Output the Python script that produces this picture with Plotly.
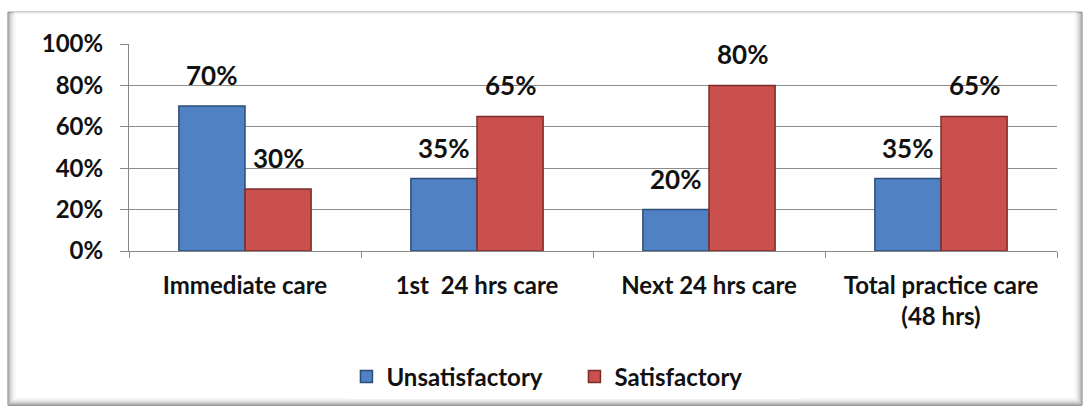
import plotly.graph_objects as go

categories = ["Immediate care", "1st  24 hrs care", "Next 24 hrs care", "Total practice care<br>(48 hrs)"]
unsatisfactory = [70, 35, 20, 35]
satisfactory = [30, 65, 80, 65]
tick_vals = [0, 20, 40, 60, 80, 100]
tick_text = ["0%", "20%", "40%", "60%", "80%", "100%"]

FONT = "Lato, 'Open Sans', sans-serif"
W, H = 1085, 409
ML, MR, MT, MB = 129, 28, 44, 157
PW, PH = W - ML - MR, H - MT - MB


def px(x):
    return (x - ML) / PW


def py(y):
    return (H - MB - y) / PH


fig = go.Figure()
fig.add_trace(go.Bar(
    name="Unsatisfactory", x=categories, y=unsatisfactory,
    marker=dict(color="#4F81C4", line=dict(color="#2C4D75", width=1.5)),
))
fig.add_trace(go.Bar(
    name="Satisfactory", x=categories, y=satisfactory,
    marker=dict(color="#C9504D", line=dict(color="#7A2E2C", width=1.5)),
))

annotations = []
for i, c in enumerate(categories):
    for val, off in ((unsatisfactory[i], -0.143), (satisfactory[i], 0.143)):
        annotations.append(dict(
            x=i + off, y=val, xref="x", yref="y", text=f"<b>{val}%</b>",
            showarrow=False, yanchor="middle", yshift=31,
            font=dict(family=FONT, size=26, color="#111"),
        ))

# frame with soft bevel
shapes = []
greys = ["#7a7a7a", "#9a9a9a", "#b4b4b4", "#c8c8c8", "#d8d8d8", "#e4e4e4", "#eeeeee", "#f5f5f5"]
for k, g in enumerate(greys):
    shapes.append(dict(
        type="rect", xref="paper", yref="paper", layer="below",
        x0=px(8 + k), x1=px(1082 - k), y0=py(407 - k), y1=py(12 + (1 if k > 0 else 0)),
        line=dict(color=g, width=1), fillcolor="rgba(0,0,0,0)",
    ))

fig.update_layout(
    width=W, height=H,
    margin=dict(l=ML, r=MR, t=MT, b=MB),
    paper_bgcolor="white", plot_bgcolor="white",
    barmode="group", bargap=0.43, bargroupgap=0,
    font=dict(family=FONT, color="#111"),
    xaxis=dict(
        showline=True, linecolor="#888", linewidth=1,
        ticks="outside", tickson="boundaries", ticklen=6, tickcolor="#888",
        tickfont=dict(family=FONT, size=24, color="#111", weight="bold"),
        ticklabelstandoff=13,
        range=[-0.5, 3.5],
    ),
    yaxis=dict(
        range=[0, 100], tickvals=tick_vals, ticktext=tick_text,
        showgrid=True, gridcolor="#8c8c8c", gridwidth=1,
        showline=True, linecolor="#888", linewidth=1,
        ticks="outside", ticklen=8, tickcolor="#888",
        tickfont=dict(family=FONT, size=24, color="#111", weight="bold"),
        ticklabelstandoff=12,
        zeroline=False,
    ),
    legend=dict(
        orientation="h", x=0.48, xanchor="center", y=-0.6, yanchor="middle",
        font=dict(family=FONT, size=24, color="#111", weight="bold"),
        traceorder="normal", itemwidth=30, entrywidth=183, entrywidthmode="pixels",
    ),
    annotations=annotations,
    shapes=shapes,
)

fig.write_html("out.html")
